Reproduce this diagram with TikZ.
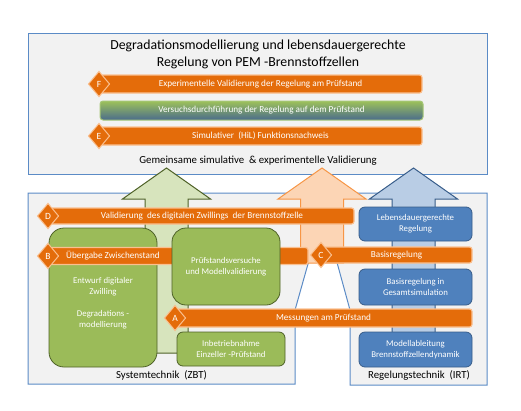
\documentclass[tikz,border=0pt]{standalone}
\usepackage{fontspec}
\setmainfont{Carlito}
\usetikzlibrary{shapes.geometric}

\definecolor{panelgray}{HTML}{F2F2F2}
\definecolor{panelblue}{HTML}{5B8BC6}
\definecolor{barorange}{HTML}{E46C0A}
\definecolor{barrim}{HTML}{FAC090}
\definecolor{boxgreen}{HTML}{9BBB59}
\definecolor{darkgreen}{HTML}{4F6228}
\definecolor{boxblue}{HTML}{4F81BD}
\definecolor{darkblue}{HTML}{385D8A}
\definecolor{garrowfill}{HTML}{D7E4BD}
\definecolor{oarrowfill}{HTML}{FCD5B5}
\definecolor{oarrowline}{HTML}{F79646}
\definecolor{barrowfill}{HTML}{B9CDE5}
\definecolor{gradtop}{HTML}{9DC15A}
\definecolor{gradbottom}{HTML}{4A6C8C}
\definecolor{gradrim}{HTML}{A6C777}

\begin{document}
\begin{tikzpicture}[x=1pt,y=-1pt,
    panel/.style={fill=panelgray,draw=panelblue,line width=1pt},
    bar/.style={rectangle,rounded corners=2.5pt,fill=barorange,draw=barrim,
        line width=1.2pt,text=white,inner sep=0pt,font=\fontsize{9.2}{10}\selectfont},
    bartext/.style={text=white,inner sep=0pt,font=\fontsize{9.2}{10}\selectfont},
    gradbar/.style={rectangle,rounded corners=3pt,top color=gradtop,bottom color=gradbottom,
        draw=gradrim,line width=1pt,text=white,inner sep=0pt,font=\fontsize{9.2}{10}\selectfont},
    tag/.style={diamond,fill=barorange,draw=barrim,line width=1pt,text=white,inner sep=0pt,
        minimum width=21.5pt,minimum height=25.5pt,font=\fontsize{9.5}{10}\selectfont},
    gbox/.style={rectangle,fill=boxgreen,draw=darkgreen,line width=0.8pt,text=white,
        align=center,font=\fontsize{8.8}{11}\selectfont},
    gtext/.style={text=white,align=center,font=\fontsize{8.8}{11}\selectfont},
    bbox/.style={rectangle,rounded corners=6pt,fill=boxblue,draw=darkblue,line width=0.8pt,
        text=white,align=center,font=\fontsize{8.8}{11}\selectfont,minimum width=113pt},
    caption/.style={text=black,font=\fontsize{10.8}{12}\selectfont}]

    \useasboundingbox (0,0) rectangle (521,410);

    % panels
    \draw[panel] (28,33) rectangle (487,174);
    \draw[panel] (28,193) -- (328,193) -- (295,310) -- (295,384) -- (28,384) -- cycle;
    \draw[panel] (318,193) -- (487,193) -- (487,385) -- (350,385) -- (350,310) -- cycle;

    % block arrows
    \foreach \cx/\yb/\fc/\dc in {166.5/353/garrowfill/darkgreen,
                                 322/263/oarrowfill/oarrowline,
                                 413.5/350/barrowfill/darkblue}
        \filldraw[fill=\fc,draw=\dc,line width=1pt]
            (\cx-21.5,\yb) -- (\cx-21.5,199) -- (\cx-44,199) -- (\cx,168)
            -- (\cx+44,199) -- (\cx+21.5,199) -- (\cx+21.5,\yb) -- cycle;

    % upper panel
    \node[font=\fontsize{13.8}{17}\selectfont,align=center] (title) at (258,54)
        {Degradationsmodellierung und lebensdauergerechte\\Regelung von PEM -Brennstoffzellen};
    \node[bar,minimum width=323pt,minimum height=18pt] (fbar) at (260.5,84)
        {Experimentelle Validierung der Regelung am Prüfstand};
    \node[tag] (ftag) at (99,84) {F};
    \node[gradbar,minimum width=323pt,minimum height=19pt] (vbar) at (261.5,110.5)
        {Versuchsdurchführung der Regelung auf dem Prüfstand};
    \node[bar,minimum width=323pt,minimum height=18pt] (ebar) at (260.5,136)
        {Simulativer\ \ (HiL) Funktionsnachweis};
    \node[tag] (etag) at (99,136) {E};
    \node[caption] (joint) at (258,161)
        {Gemeinsame simulative\ \ \& experimentelle Validierung};

    % lower panels
    \node[bar,minimum width=304pt,minimum height=16pt] (dbar) at (202,216)
        {Validierung\ \ des digitalen Zwillings\ \ der Brennstoffzelle};
    \node[tag] (dtag) at (48,216) {D};

    \node[gbox,rounded corners=15pt,minimum width=108pt,minimum height=139pt] (design)
        at (103,297.5) {};
    \node[gtext] (designtext) at (103,303)
        {Entwurf digitaler\\Zwilling\\[11pt]Degradations -\\modellierung};

    \node[bar,minimum width=258pt,minimum height=17pt] (bbar) at (179,256) {};
    \node[tag] (btag) at (48,256) {B};
    \node[bartext] (btext) at (113,256) {Übergabe Zwischenstand};

    \node[gbox,rounded corners=14pt,minimum width=108pt,minimum height=77pt] (testbench)
        at (226,266.5) {Prüfstandsversuche\\und Modellvalidierung};
    \node[gbox,rounded corners=6pt,minimum width=108pt,minimum height=34pt] (commission)
        at (231,349) {Inbetriebnahme\\Einzeller -Prüfstand};

    \node[bar,minimum width=151pt,minimum height=16pt] (cbar) at (396.5,255) {Basisregelung};
    \node[tag] (ctag) at (321,255) {C};

    \node[bbox,minimum height=34pt] (lifetime) at (415.5,224) {Lebensdauergerechte\\Regelung};
    \node[bbox,minimum height=36pt] (basesim) at (415.5,287) {Basisregelung in\\Gesamtsimulation};
    \node[bbox,minimum height=35pt] (dynamics) at (415.5,349.5)
        {Modellableitung\\Brennstoffzellendynamik};

    \node[bar,minimum width=297pt,minimum height=18pt] (abar) at (323.5,318)
        {Messungen am Prüfstand};
    \node[tag] (atag) at (175,318) {A};

    \node[caption] (zbt) at (161.5,375) {Systemtechnik\ \ (ZBT)};
    \node[caption] (irt) at (419,375) {Regelungstechnik\ \ (IRT)};
\end{tikzpicture}
\end{document}
